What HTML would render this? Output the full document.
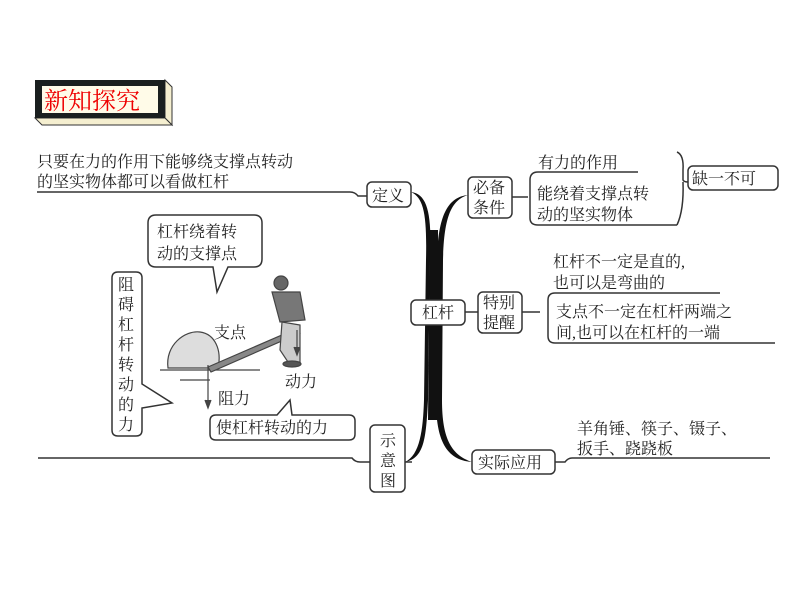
<!DOCTYPE html>
<html><head><meta charset="utf-8"><style>
body{margin:0;background:#fff;}
svg{display:block}
text{font-family:"Liberation Serif","Noto Serif CJK SC","Noto Sans CJK SC",serif;fill:#222;font-size:16px;}
</style></head><body>
<svg width="800" height="600" viewBox="0 0 800 600" xmlns="http://www.w3.org/2000/svg">
<!-- title -->
<polygon points="165,80 172,87 172,125 165,118" fill="#f5efd0" stroke="#333"/>
<polygon points="35,118 165,118 172,125 42,125" fill="#f5efd0" stroke="#333"/>
<rect x="35" y="80" width="130" height="38" fill="#1a1f1f"/>
<rect x="42" y="86" width="116" height="27" fill="#fffbe8"/>
<text x="44" y="109" style="fill:#e00;font-size:24px;font-family:'Noto Serif CJK SC','Noto Sans CJK SC',serif">新知探究</text>

<!-- thick central curves -->
<path d="M411,192 C428,194 432,215 430,260 L428,400 C426,440 424,458 405,462 C420,455 423,430 424,400 L426,260 C427,215 424,198 411,192 Z" fill="#111"/>
<path d="M468,195 C448,197 438,215 437,260 L436,400 C436,440 446,460 472,462 C452,455 442,440 442,400 L443,260 C444,215 452,200 468,195 Z" fill="#111"/>
<path d="M430,230 L438,230 L438,420 L428,420 Z" fill="#111"/>

<g stroke="#333" stroke-width="1.5" fill="none">
<path d="M37,192 L350,192 Q355,192 358,196 L367,196"/>
<rect x="367" y="182" width="44" height="25" rx="5" fill="#fff"/>
<path d="M38,458 L352,458 Q355,462 360,462 L370,462"/>
<rect x="370" y="425" width="35" height="67" rx="5" fill="#fff"/>
<path d="M405,462 L412,462"/>
<rect x="411" y="300" width="54" height="25" rx="5" fill="#fff"/>
<rect x="468" y="177" width="44" height="41" rx="5" fill="#fff"/>
<rect x="478" y="292" width="44" height="41" rx="5" fill="#fff"/>
<rect x="472" y="450" width="83" height="24" rx="5" fill="#fff"/>
<path d="M465,312 L478,312"/>
<path d="M512,197 L528,197"/>
<path d="M638,172 L538,172 Q530,172 530,180 L530,218 Q530,225 538,225 L677,225"/>
<path d="M677,152 Q684,155 683,170 L683,180 Q684,182 688,182 M683,182 Q684,210 677,225"/>
<rect x="688" y="166" width="90" height="24" rx="5" fill="#fff"/>
<path d="M522,312 L540,312"/>
<path d="M720,293 L555,293 Q548,293 548,300 L548,336 Q548,343 555,343 L775,343"/>
<path d="M555,462 L565,462 Q568,458 572,458 L770,458"/>
<path d="M156,215 L254,215 Q262,215 262,223 L262,259 Q262,267 254,267 L228,267 L217,292 L213,267 L156,267 Q148,267 148,259 L148,223 Q148,215 156,215 Z" fill="#fff"/>
<path d="M118,272 L136,272 Q142,272 142,278 L142,384 L172,403 L142,408 L142,430 Q142,436 136,436 L118,436 Q112,436 112,430 L112,278 Q112,272 118,272 Z" fill="#fff"/>
<path d="M216,415 L277,415 L290,400 L292,415 L349,415 Q355,415 355,421 L355,434 Q355,440 349,440 L216,440 Q210,440 210,434 L210,421 Q210,415 216,415 Z" fill="#fff"/>
</g>

<!-- sketch -->
<g stroke="#444" fill="none" stroke-width="1.2">
<path d="M168,368 C165,345 185,330 200,332 C215,334 222,350 218,368 Z" fill="#ddd"/>
<path d="M160,370 L260,370 M180,380 L210,380"/>
<path d="M208,367 L298,328 L300,333 L211,372 Z" fill="#888"/>
<path d="M208,365 L208,405"/><path d="M205,400 L208,408 L211,400" fill="#444"/>
<circle cx="281" cy="283" r="7" fill="#666"/>
<path d="M272,292 L300,292 L305,320 L280,322 Z" fill="#777"/>
<path d="M282,322 L280,350 L290,365 L300,362 L300,325 Z" fill="#ccc"/>
<path d="M297,330 L297,352"/><path d="M294,347 L297,355 L300,347" fill="#444"/>
<ellipse cx="292" cy="364" rx="9" ry="3" fill="#555"/>
</g>

<text x="372" y="201">定义</text>
<text x="422" y="318">杠杆</text>
<text x="473" y="193">必备</text>
<text x="473" y="213">条件</text>
<text x="483" y="308">特别</text>
<text x="483" y="328">提醒</text>
<text x="478" y="468">实际应用</text>
<text x="380" y="446">示</text>
<text x="380" y="466">意</text>
<text x="380" y="486">图</text>
<text x="692" y="184">缺一不可</text>
<text x="37" y="167">只要在力的作用下能够绕支撑点转动</text>
<text x="37" y="187">的坚实物体都可以看做杠杆</text>
<text x="538" y="168">有力的作用</text>
<text x="537" y="199">能绕着支撑点转</text>
<text x="537" y="220">动的坚实物体</text>
<text x="553" y="267">杠杆不一定是直的,</text>
<text x="553" y="288">也可以是弯曲的</text>
<text x="556" y="317">支点不一定在杠杆两端之</text>
<text x="556" y="338">间,也可以在杠杆的一端</text>
<text x="577" y="434">羊角锤、筷子、镊子、</text>
<text x="577" y="454">扳手、跷跷板</text>
<text x="157" y="237">杠杆绕着转</text>
<text x="157" y="259">动的支撑点</text>
<g>
<text x="118" y="290">阻</text><text x="118" y="310">碍</text><text x="118" y="330">杠</text><text x="118" y="350">杆</text>
<text x="118" y="370">转</text><text x="118" y="390">动</text><text x="118" y="410">的</text><text x="118" y="430">力</text>
</g>
<text x="216" y="433">使杠杆转动的力</text>
<text x="214" y="338">支点</text>
<text x="285" y="387">动力</text>
<text x="218" y="404">阻力</text>
</svg>
</body></html>
